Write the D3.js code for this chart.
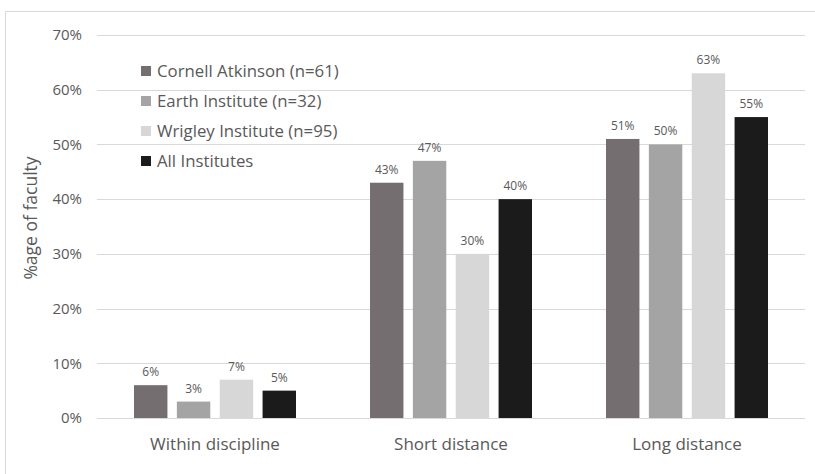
<!DOCTYPE html>
<html>
<head>
<meta charset="utf-8">
<script src="https://cdn.jsdelivr.net/npm/d3@7"></script>
<style>
  html, body { margin: 0; padding: 0; background: #fff; }
  svg { display: block; font-family: "Open Sans", Lato, sans-serif; }
</style>
</head>
<body>
<svg id="chart" width="815" height="474"></svg>
<script>
// Share of faculty by collaboration distance, per institute
const categories = ["Within discipline", "Short distance", "Long distance"];
const seriesNames = ["Cornell Atkinson (n=61)", "Earth Institute (n=32)", "Wrigley Institute (n=95)", "All Institutes"];
const cornellAtkinson = [6, 43, 51];
const earthInstitute = [3, 47, 50];
const wrigleyInstitute = [7, 30, 63];
const allInstitutes = [5, 40, 55];
const yTicks = [0, 10, 20, 30, 40, 50, 60, 70];
const seriesColors = ["#756e70", "#a4a4a4", "#d7d7d7", "#1b1b1b"];

const seriesValues = [cornellAtkinson, earthInstitute, wrigleyInstitute, allInstitutes];

const svg = d3.select("#chart");
const W = 815, H = 474;
const plotLeft = 97, plotRight = 805, plotTop = 35, plotBottom = 418;
const textColor = "#595959";

// chart frame (top and left edges)
svg.append("line").attr("x1", 5).attr("x2", W).attr("y1", 11.5).attr("y2", 11.5)
  .attr("stroke", "#d9d9d9").attr("stroke-width", 1);
svg.append("line").attr("x1", 5.5).attr("x2", 5.5).attr("y1", 11).attr("y2", H)
  .attr("stroke", "#d9d9d9").attr("stroke-width", 1);

const x0 = d3.scaleBand().domain(categories).range([plotLeft, plotRight]);
const x1 = d3.scaleBand().domain(d3.range(seriesNames.length))
  .range([37, x0.bandwidth() - 37]).paddingInner(0.22).paddingOuter(0);
const y = d3.scaleLinear().domain([0, 70]).range([plotBottom, plotTop]);

// gridlines
svg.append("g").selectAll("line").data(yTicks).join("line")
  .attr("x1", plotLeft).attr("x2", plotRight)
  .attr("y1", d => Math.round(y(d)) + 0.5).attr("y2", d => Math.round(y(d)) + 0.5)
  .attr("stroke", "#d9d9d9").attr("stroke-width", 1);

// y axis labels
const yAxis = d3.axisLeft(y).tickValues(yTicks).tickFormat(d => d + "%").tickSize(0).tickPadding(0);
const yg = svg.append("g").attr("transform", "translate(82,0)").call(yAxis);
yg.select(".domain").remove();
yg.selectAll("text").attr("font-size", 15).attr("fill", textColor)
  .attr("font-family", "'Open Sans', sans-serif");

// x axis labels
const xAxis = d3.axisBottom(x0).tickSize(0).tickPadding(0);
const xg = svg.append("g").attr("transform", `translate(0,${plotBottom})`).call(xAxis);
xg.select(".domain").remove();
xg.selectAll("text").attr("font-size", 17).attr("fill", textColor).attr("dy", 0).attr("y", 32)
  .attr("font-family", "'Open Sans', sans-serif");

// bars
const groups = svg.append("g").selectAll("g").data(categories).join("g")
  .attr("transform", d => `translate(${x0(d)},0)`);

const cells = (c, ci) => seriesValues.map((vals, si) => ({ si, v: vals[ci] }));

groups.selectAll("rect").data(cells).join("rect")
  .attr("x", d => x1(d.si))
  .attr("width", x1.bandwidth())
  .attr("y", d => y(d.v))
  .attr("height", d => y(0) - y(d.v))
  .attr("fill", d => seriesColors[d.si]);

// value labels
groups.selectAll("text.val").data(cells).join("text")
  .attr("class", "val")
  .attr("x", d => x1(d.si) + x1.bandwidth() / 2)
  .attr("y", d => y(d.v) - 9)
  .attr("text-anchor", "middle")
  .attr("font-size", 12)
  .attr("fill", textColor)
  .text(d => d.v + "%");

// y axis title
svg.append("text")
  .attr("transform", "translate(37,218) rotate(-90)")
  .attr("text-anchor", "middle")
  .attr("font-size", 17.5)
  .attr("fill", textColor)
  .text("%age of faculty");

// legend
const legend = svg.append("g").selectAll("g").data(seriesNames).join("g")
  .attr("transform", (d, i) => `translate(141,${71 + i * 30})`);
legend.append("rect").attr("x", 0).attr("y", -5).attr("width", 10).attr("height", 10)
  .attr("fill", (d, i) => seriesColors[i]);
legend.append("text").attr("x", 16).attr("y", 0).attr("dy", "0.35em")
  .attr("font-size", 16.8).attr("fill", textColor).text(d => d);
</script>
</body>
</html>
